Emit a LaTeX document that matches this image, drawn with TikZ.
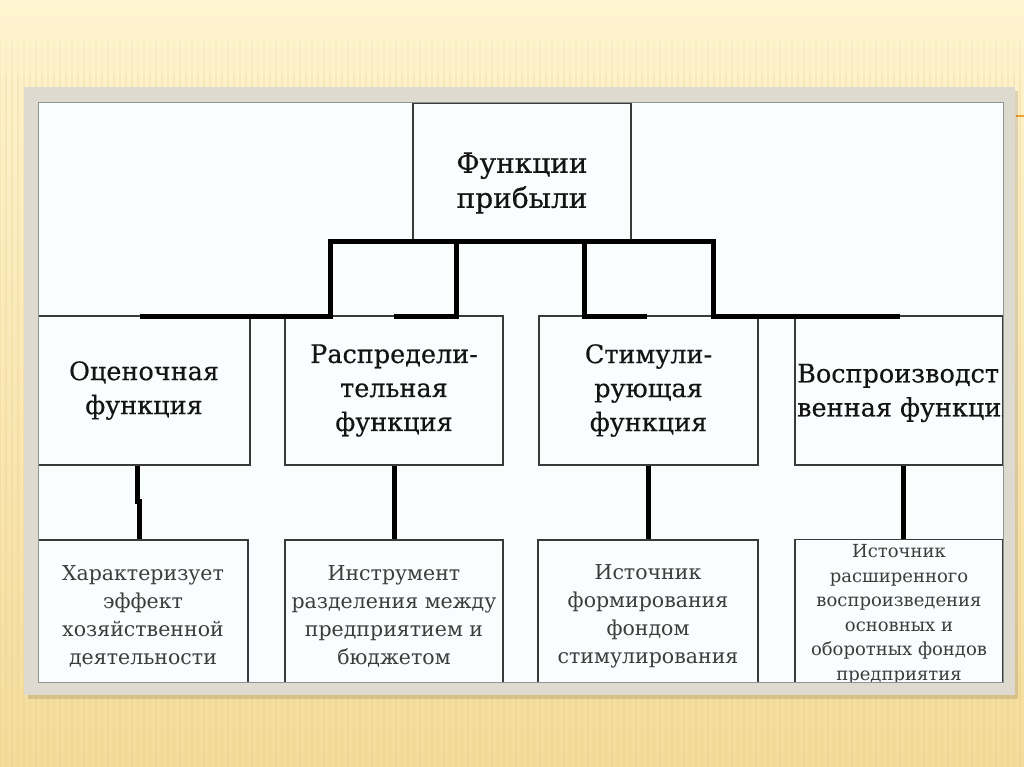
\documentclass[tikz,border=0pt]{standalone}
\usepackage{fontspec}
\setmainfont{DejaVu Serif}
\newfontfamily\heavyserif[FakeBold=0.35]{DejaVu Serif}
\definecolor{bgtop}{HTML}{FEF4CF}
\definecolor{bgbot}{HTML}{F5DC9C}
\definecolor{stripec}{HTML}{E2B965}
\definecolor{framec}{HTML}{DEDAD0}
\definecolor{innerc}{HTML}{FAFDFE}
\definecolor{edgec}{HTML}{8E9394}
\definecolor{linec}{HTML}{3A3A3A}
\definecolor{txtdark}{HTML}{141414}
\definecolor{txtgray}{HTML}{3C3C3C}
\definecolor{markc}{HTML}{F0A030}
\begin{document}
\begin{tikzpicture}[x=1pt,y=-1pt,
  stripe/.style={stripec, line width=1.4pt},
  boxst/.style={draw=linec, line width=1.1pt, inner sep=0pt},
  lvlone/.style={font=\heavyserif\fontsize{28}{35}\selectfont, align=center, text=txtdark},
  lvltwo/.style={font=\heavyserif\fontsize{25.5}{34}\selectfont, align=center, text=txtdark},
  lvlthree/.style={font=\fontsize{20.5}{28}\selectfont, align=center, text=txtgray},
  lvlsmall/.style={font=\fontsize{18}{24.5}\selectfont, align=center, text=txtgray},
  bus/.style={line width=5pt, black, line cap=butt, line join=miter}]
\useasboundingbox (0,0) rectangle (1024,767);
% background
\fill[top color=bgtop, bottom color=bgbot] (0,0) rectangle (1024,767);
\foreach \x in {0,6,...,1024} {
  \draw[stripe, opacity=0.08] (\x,40) -- (\x,75);
  \draw[stripe, opacity=0.16] (\x,75) -- (\x,767);
}
\draw[markc, line width=1.5pt] (1016,116) -- (1024,116);
% frame
\fill[black, opacity=0.12] (28,91) rectangle (1018,699);
\fill[framec] (24,87) rectangle (1015,695);
\fill[innerc] (38,103) rectangle (1003,682);
\begin{scope}
\clip (38,103) rectangle (1003,682);
% top box
\node[boxst, minimum width=218, minimum height=138] (top) at (522,172) {};
\node[lvlone] (toptext) at (522,183) {Функции\\прибыли};
% second row
\node[boxst, lvltwo, minimum width=212, minimum height=149] (b1) at (144,390.5) {Оценочная\\функция};
\node[boxst, lvltwo, minimum width=218, minimum height=149] (b2) at (394,390.5) {Распредели-\\тельная\\функция};
\node[boxst, lvltwo, minimum width=219, minimum height=149] (b3) at (648.5,390.5) {Стимули-\\рующая\\функция};
\node[boxst, minimum width=208, minimum height=149] (b4) at (899,390.5) {};
\node[lvltwo, align=left, anchor=west, inner sep=0pt] (b4text) at (797,393) {Воспроизводст\\венная функция};
% third row
\node[boxst, lvlthree, minimum width=210, minimum height=152] (c1) at (143,616) {Характеризует\\эффект\\хозяйственной\\деятельности};
\node[boxst, lvlthree, minimum width=218, minimum height=152] (c2) at (394,616) {Инструмент\\разделения между\\предприятием и\\бюджетом};
\node[boxst, lvlthree, minimum width=220, minimum height=152] (c3) at (648,616) {Источник\\формирования\\фондом\\стимулирования};
\node[boxst, lvlsmall, minimum width=208, minimum height=150] (c4) at (899,614.5) {Источник\\расширенного\\воспроизведения\\основных и\\оборотных фондов\\предприятия};
% tree connectors
\coordinate (j1) at (330,241);
\coordinate (j2) at (456,241);
\coordinate (j3) at (584,241);
\coordinate (j4) at (713,241);
\coordinate (e1) at (140,316);
\coordinate (e2) at (394,316);
\coordinate (e3) at (647,316);
\coordinate (e4) at (900,316);
\draw[bus] (e1) -- (e1 -| j1) -- (j1) -- (j4) -- (e4 -| j4) -- (e4);
\draw[bus] (e2) -- (e2 -| j2) -- ([yshift=2.5pt]j2);
\draw[bus] (e3) -- (e3 -| j3) -- ([yshift=2.5pt]j3);
% lower connectors
\draw[bus] ([xshift=-7pt]b1.south) -- ++(0,36) -| ([xshift=-4pt]c1.north);
\draw[bus] (b2.south) -- (b2.south |- c2.north);
\draw[bus] (b3.south) -- (b3.south |- c3.north);
\draw[bus] ([xshift=4pt]b4.south) -- ([xshift=4pt]b4.south |- c4.north);
\end{scope}
\draw[edgec, line width=1pt] (38,103) rectangle (1003,682);
\end{tikzpicture}
\end{document}
